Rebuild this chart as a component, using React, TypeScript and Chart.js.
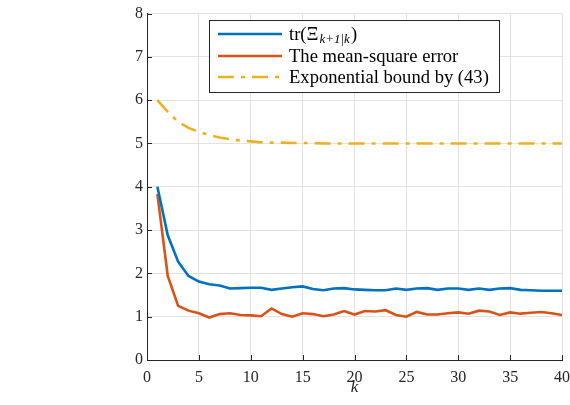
import React, { useEffect, useRef } from "react";
import { Chart, registerables } from "chart.js";

Chart.register(...registerables);

const kValues = [1,2,3,4,5,6,7,8,9,10,11,12,13,14,15,16,17,18,19,20,21,22,23,24,25,26,27,28,29,30,31,32,33,34,35,36,37,38,39,40];

const traceXi = [4.00,2.88,2.27,1.94,1.81,1.75,1.72,1.65,1.66,1.67,1.67,1.62,1.65,1.68,1.70,1.64,1.61,1.65,1.66,1.63,1.62,1.61,1.61,1.65,1.62,1.65,1.66,1.62,1.65,1.65,1.62,1.65,1.62,1.65,1.66,1.62,1.61,1.60,1.60,1.60];

const mseValues = [3.83,1.94,1.25,1.14,1.08,0.98,1.06,1.08,1.04,1.03,1.01,1.19,1.06,1.00,1.08,1.06,1.01,1.05,1.13,1.05,1.13,1.12,1.15,1.04,1.00,1.11,1.05,1.05,1.08,1.10,1.07,1.14,1.12,1.04,1.10,1.07,1.09,1.11,1.08,1.04];

const boundValues = [6.00,5.73,5.50,5.36,5.27,5.19,5.14,5.10,5.07,5.05,5.03,5.02,5.02,5.01,5.01,5.01,5.00,5.00,5.00,5.00,5.00,5.00,5.00,5.00,5.00,5.00,5.00,5.00,5.00,5.00,5.00,5.00,5.00,5.00,5.00,5.00,5.00,5.00,5.00,5.00];

const legendLabels = ["tr(Ξ", "The mean-square error", "Exponential bound by (43)"];
const subscriptText = "k+1|k";
const xTicks = [0, 5, 10, 15, 20, 25, 30, 35, 40];
const yTicks = [0, 1, 2, 3, 4, 5, 6, 7, 8];

const BLUE = "#0072BD";
const ORANGE = "#D95319";
const YELLOW = "#EDB120";
const DASH = [16, 7, 4, 7];
const SERIF = "'Liberation Serif', 'Times New Roman', serif";

const toPoints = (ys: number[]) => ys.map((y, i) => ({ x: kValues[i], y }));

const decorPlugin = {
  id: "decor",
  afterDraw(chart: any) {
    const ctx = chart.ctx as CanvasRenderingContext2D;
    const { left, bottom } = chart.chartArea;
    const xs = chart.scales.x;
    const ys = chart.scales.y;
    ctx.save();
    ctx.strokeStyle = "#262626";
    ctx.lineWidth = 1;
    ctx.beginPath();
    for (const t of xTicks) {
      const px = Math.round(xs.getPixelForValue(t)) + 0.5;
      ctx.moveTo(px, bottom);
      ctx.lineTo(px, bottom - 5);
    }
    for (const t of yTicks) {
      const py = Math.round(ys.getPixelForValue(t)) + 0.5;
      ctx.moveTo(left, py);
      ctx.lineTo(left + 5, py);
    }
    ctx.stroke();

    // legend box
    const bx = 209.5, by = 20.5, bw = 290, bh = 72;
    ctx.fillStyle = "#ffffff";
    ctx.fillRect(bx, by, bw, bh);
    ctx.strokeStyle = "#262626";
    ctx.strokeRect(bx, by, bw, bh);
    const rows = [34, 56, 77];
    const colors = [BLUE, ORANGE, YELLOW];
    for (let i = 0; i < 3; i++) {
      ctx.beginPath();
      ctx.strokeStyle = colors[i];
      ctx.lineWidth = 2.5;
      ctx.setLineDash(i === 2 ? DASH : []);
      ctx.moveTo(218, rows[i]);
      ctx.lineTo(282, rows[i]);
      ctx.stroke();
    }
    ctx.setLineDash([]);
    ctx.fillStyle = "#000000";
    ctx.textBaseline = "alphabetic";
    ctx.textAlign = "left";
    ctx.font = `18.6px ${SERIF}`;
    const tx = 289;
    ctx.fillText(legendLabels[0], tx, rows[0] + 6);
    let w = ctx.measureText(legendLabels[0]).width;
    ctx.font = `italic 13px ${SERIF}`;
    ctx.fillText(subscriptText, tx + w + 1, rows[0] + 9);
    const w2 = ctx.measureText(subscriptText).width;
    ctx.font = `18.6px ${SERIF}`;
    ctx.fillText(")", tx + w + 1 + w2 + 1, rows[0] + 6);
    ctx.fillText(legendLabels[1], tx, rows[1] + 6);
    ctx.fillText(legendLabels[2], tx, rows[2] + 6);
    ctx.restore();
  },
};

export default function App() {
  const ref = useRef<HTMLCanvasElement | null>(null);
  useEffect(() => {
    document.body.style.margin = "0";
    const canvas = ref.current!;
    const chart = new Chart(canvas, {
      type: "line",
      data: {
        datasets: [
          { label: "trace", data: toPoints(traceXi), borderColor: BLUE, borderWidth: 2.6, pointRadius: 0, tension: 0, fill: false },
          { label: "mse", data: toPoints(mseValues), borderColor: ORANGE, borderWidth: 2.6, pointRadius: 0, tension: 0, fill: false },
          { label: "bound", data: toPoints(boundValues), borderColor: YELLOW, borderWidth: 2.6, borderDash: DASH, pointRadius: 0, tension: 0, fill: false },
        ],
      },
      options: {
        responsive: false,
        animation: false,
        devicePixelRatio: 1,
        layout: { padding: { left: 0, right: 0, top: 13, bottom: 0 } },
        plugins: { legend: { display: false }, tooltip: { enabled: false } },
        scales: {
          x: {
            type: "linear",
            min: 0,
            max: 40,
            afterFit: (s: any) => { s.height = 45; s.paddingRight = 8; },
            afterBuildTicks: (s: any) => { s.ticks = xTicks.map((v) => ({ value: v })); },
            grid: { color: "#e3e3e3", drawTicks: false, lineWidth: 1 },
            border: { display: true, color: "#262626", width: 1 },
            ticks: { color: "#262626", padding: 8, font: { family: SERIF, size: 16 }, maxRotation: 0 },
            title: { display: true, text: "k", color: "#262626", font: { family: SERIF, size: 17, style: "italic" }, padding: { top: 7, bottom: 7 } },
          },
          y: {
            type: "linear",
            min: 0,
            max: 8,
            afterFit: (s: any) => { s.width = 147; },
            afterBuildTicks: (s: any) => { s.ticks = yTicks.map((v) => ({ value: v })); },
            grid: { color: "#e3e3e3", drawTicks: false, lineWidth: 1 },
            border: { display: true, color: "#262626", width: 1 },
            ticks: { color: "#262626", padding: 4, font: { family: SERIF, size: 16 } },
          },
        },
      },
      plugins: [decorPlugin],
    });
    return () => chart.destroy();
  }, []);
  return (
    <div style={{ width: 570, height: 405 }}>
      <canvas ref={ref} width={570} height={405} style={{ display: "block" }} />
    </div>
  );
}
